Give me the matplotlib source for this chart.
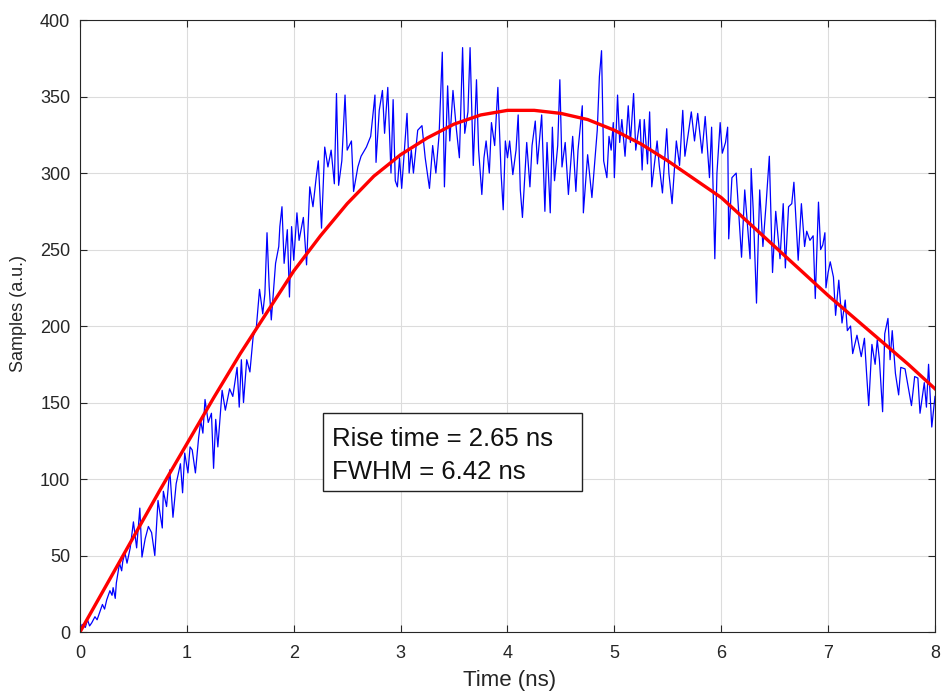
import matplotlib.pyplot as plt
from matplotlib.patches import Rectangle

plt.rcParams['font.family'] = ['Liberation Sans', 'DejaVu Sans']

sample_time = [
    0.00, 0.02, 0.05, 0.07, 0.09, 0.11, 0.14, 0.16, 0.19, 0.21, 0.23, 0.25,
    0.28, 0.30, 0.31, 0.33, 0.34, 0.37, 0.39, 0.40, 0.42, 0.44, 0.47, 0.50,
    0.53, 0.56, 0.58, 0.61, 0.64, 0.67, 0.70, 0.73, 0.77, 0.78, 0.81, 0.84,
    0.87, 0.90, 0.94, 0.96, 0.98, 1.01, 1.03, 1.05, 1.08, 1.11, 1.13, 1.15,
    1.17, 1.20, 1.23, 1.25, 1.27, 1.29, 1.33, 1.36, 1.40, 1.43, 1.47, 1.49,
    1.51, 1.53, 1.56, 1.59, 1.62, 1.65, 1.68, 1.71, 1.73, 1.75, 1.77, 1.79,
    1.83, 1.86, 1.87, 1.89, 1.91, 1.94, 1.96, 1.98, 2.00, 2.03, 2.05, 2.09,
    2.12, 2.15, 2.18, 2.21, 2.23, 2.26, 2.29, 2.32, 2.35, 2.38, 2.40, 2.42,
    2.45, 2.48, 2.50, 2.54, 2.56, 2.60, 2.63, 2.68, 2.72, 2.76, 2.77, 2.80,
    2.83, 2.85, 2.88, 2.91, 2.93, 2.95, 2.97, 2.99, 3.01, 3.04, 3.06, 3.08,
    3.10, 3.12, 3.16, 3.20, 3.23, 3.27, 3.30, 3.33, 3.36, 3.39, 3.41, 3.44,
    3.46, 3.49, 3.52, 3.55, 3.58, 3.60, 3.63, 3.65, 3.68, 3.71, 3.73, 3.76,
    3.78, 3.80, 3.83, 3.85, 3.88, 3.91, 3.94, 3.96, 3.98, 4.00, 4.02, 4.05,
    4.08, 4.10, 4.12, 4.14, 4.18, 4.21, 4.23, 4.26, 4.28, 4.32, 4.35, 4.37,
    4.40, 4.42, 4.44, 4.47, 4.49, 4.51, 4.54, 4.57, 4.61, 4.64, 4.66, 4.70,
    4.71, 4.75, 4.79, 4.82, 4.84, 4.86, 4.88, 4.90, 4.93, 4.95, 4.97, 4.99,
    5.00, 5.03, 5.05, 5.07, 5.10, 5.13, 5.15, 5.18, 5.20, 5.24, 5.26, 5.28,
    5.31, 5.33, 5.35, 5.40, 5.42, 5.45, 5.49, 5.51, 5.54, 5.58, 5.61, 5.64,
    5.66, 5.69, 5.72, 5.75, 5.78, 5.82, 5.85, 5.89, 5.91, 5.94, 5.96, 5.99,
    6.01, 6.04, 6.06, 6.07, 6.10, 6.14, 6.17, 6.19, 6.22, 6.27, 6.28, 6.30,
    6.33, 6.36, 6.39, 6.42, 6.45, 6.48, 6.51, 6.55, 6.58, 6.60, 6.63, 6.66,
    6.68, 6.72, 6.75, 6.78, 6.80, 6.83, 6.86, 6.88, 6.91, 6.93, 6.95, 6.97,
    6.98, 7.00, 7.02, 7.05, 7.07, 7.10, 7.13, 7.16, 7.18, 7.21, 7.23, 7.27,
    7.31, 7.34, 7.36, 7.38, 7.41, 7.44, 7.46, 7.48, 7.51, 7.53, 7.56, 7.58,
    7.60, 7.63, 7.66, 7.68, 7.72, 7.75, 7.78, 7.81, 7.84, 7.86, 7.90, 7.92,
    7.94, 7.97, 8.00,
]
sample_value = [
    0, 5, 3, 8, 4, 6, 10, 8, 14, 18, 15, 21,
    27, 24, 29, 22, 32, 45, 40, 46, 52, 45, 55, 72,
    55, 81, 49, 61, 69, 65, 50, 86, 68, 92, 82, 106,
    75, 97, 110, 91, 117, 104, 121, 119, 104, 127, 138, 130,
    152, 137, 143, 107, 139, 121, 158, 145, 159, 154, 173, 147,
    178, 150, 178, 170, 193, 199, 224, 208, 221, 261, 226, 204,
    241, 252, 265, 278, 241, 263, 219, 265, 243, 274, 256, 271,
    240, 291, 278, 297, 308, 264, 317, 304, 315, 293, 352, 292,
    308, 351, 315, 321, 288, 304, 311, 317, 324, 351, 307, 341,
    354, 326, 356, 300, 348, 295, 291, 310, 290, 320, 339, 300,
    315, 300, 328, 331, 310, 290, 318, 300, 325, 379, 291, 357,
    321, 354, 330, 310, 382, 326, 340, 382, 305, 361, 315, 286,
    310, 321, 300, 333, 318, 356, 300, 276, 321, 310, 321, 299,
    315, 338, 289, 271, 320, 291, 318, 334, 306, 338, 275, 320,
    274, 330, 295, 318, 361, 304, 320, 286, 324, 288, 315, 344,
    274, 312, 284, 310, 328, 363, 380, 308, 297, 324, 315, 333,
    297, 351, 320, 335, 311, 344, 320, 352, 315, 335, 302, 335,
    306, 340, 291, 321, 305, 287, 329, 300, 280, 321, 305, 341,
    311, 325, 340, 321, 339, 313, 337, 297, 330, 244, 300, 333,
    313, 320, 330, 257, 297, 300, 267, 245, 289, 244, 303, 275,
    215, 289, 252, 280, 311, 235, 275, 244, 280, 238, 278, 280,
    294, 243, 280, 252, 262, 256, 259, 218, 281, 250, 253, 261,
    225, 235, 242, 232, 207, 230, 202, 217, 197, 200, 182, 194,
    180, 192, 169, 148, 188, 175, 191, 178, 144, 195, 205, 178,
    197, 169, 155, 173, 172, 160, 148, 167, 166, 143, 163, 147,
    175, 134, 154,
]

# fitted pulse shape
fit_time = [
    0.00, 0.25, 0.50, 0.75, 1.00, 1.25, 1.50, 1.75, 2.00, 2.25, 2.50,
    2.75, 3.00, 3.25, 3.50, 3.75, 4.00, 4.25, 4.50, 4.75, 5.00, 5.25,
    5.50, 5.75, 6.00, 6.25, 6.50, 6.75, 7.00, 7.25, 7.50, 7.75, 8.00,
]
fit_value = [
    0, 31, 62, 93, 123, 153, 182, 209, 236, 259, 280,
    298, 312, 323, 332, 338, 341, 341, 339, 335, 328, 319,
    308, 296, 284, 268, 252, 236, 220, 205, 190, 175, 159,
]

x_ticks = [0, 1, 2, 3, 4, 5, 6, 7, 8]
y_ticks = [0, 50, 100, 150, 200, 250, 300, 350, 400]
annotation_lines = ['Rise time = 2.65 ns', 'FWHM = 6.42 ns']

axis_color = '#262626'

fig = plt.figure(figsize=(9.41, 6.93), dpi=100)
ax = fig.add_axes([0.085, 0.088, 0.9086, 0.883])

ax.plot(sample_time, sample_value, color='#0000ff', linewidth=0.9)
ax.plot(fit_time, fit_value, color='#ff0000', linewidth=2.4)

ax.set_xlim(0, 8)
ax.set_ylim(0, 400)
ax.set_xticks(x_ticks)
ax.set_yticks(y_ticks)
ax.grid(True, color='#dcdcdc', linewidth=0.8)
ax.set_axisbelow(True)

ax.tick_params(direction='in', top=True, right=True, length=5,
               width=0.8, color=axis_color, labelcolor=axis_color,
               labelsize=13)
ax.tick_params(axis='x', pad=9)
ax.tick_params(axis='y', pad=7)
for spine in ax.spines.values():
    spine.set_color(axis_color)
    spine.set_linewidth(0.8)

ax.set_xlabel('Time (ns)', fontsize=16, color=axis_color)
ax.set_ylabel('Samples (a.u.)', fontsize=13, color=axis_color)
ax.xaxis.set_label_coords(0.503, -0.062)
ax.yaxis.set_label_coords(-0.062, 0.52)

# annotation box, drawn in data coordinates
ax.add_patch(Rectangle((2.274, 92.2), 2.423, 50.9, facecolor='white',
                       edgecolor='#222222', linewidth=1.0, zorder=5))
ax.text(2.358, 121.6, annotation_lines[0], fontsize=18.5, color='#111111',
        ha='left', va='baseline', zorder=6)
ax.text(2.358, 100.0, annotation_lines[1], fontsize=18.5, color='#111111',
        ha='left', va='baseline', zorder=6)

fig.savefig('out.png', dpi=100)
